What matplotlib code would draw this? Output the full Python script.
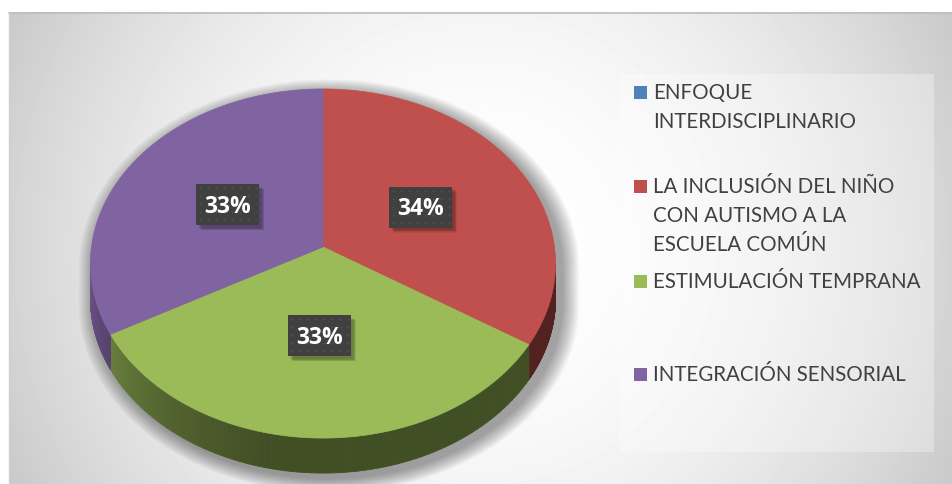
import numpy as np
import matplotlib.pyplot as plt
from matplotlib.patches import Polygon, Rectangle
from matplotlib.collections import PolyCollection
from matplotlib.colors import to_rgb

categories = ['ENFOQUE INTERDISCIPLINARIO',
              'LA INCLUSIÓN DEL NIÑO CON AUTISMO A LA ESCUELA COMÚN',
              'ESTIMULACIÓN TEMPRANA',
              'INTEGRACIÓN SENSORIAL']
legend_lines = [['ENFOQUE', 'INTERDISCIPLINARIO'],
                ['LA INCLUSIÓN DEL NIÑO', 'CON AUTISMO A LA', 'ESCUELA COMÚN'],
                ['ESTIMULACIÓN TEMPRANA'],
                ['INTEGRACIÓN SENSORIAL']]
values = [0, 34, 33, 33]
colors = ['#4F81BD', '#C0504D', '#9BBB59', '#8064A2']

W, H = 953, 485
fig = plt.figure(figsize=(W / 100, H / 100), dpi=100)
ax = fig.add_axes([0, 0, 1, 1])
ax.set_xlim(0, W)
ax.set_ylim(H, 0)
ax.axis('off')

# chart area: radial grey gradient
yy, xx = np.mgrid[13:H, 9:W] + 0.5
d = np.hypot(xx - 481, yy - 249)
g = (255 - 55 * (d / 530) ** 2) / 255
ax.imshow(g, cmap='gray', vmin=0, vmax=1, extent=[9, W, H, 13],
          interpolation='bilinear', zorder=0)
ax.plot([9, W], [13.5, 13.5], color='#BDBDBD', lw=1.2, zorder=1)
ax.plot([9.5, 9.5], [13, H], color='#D0D0D0', lw=1, zorder=1)

# perspective pie geometry
cx, cy0, s, t, k, depth = 323, 248, 231.5, 173, 0.0946, 35


def proj(theta_deg, r=1.0):
    th = np.radians(theta_deg)
    u, v = r * np.cos(th), r * np.sin(th)
    w = 1 + k * v
    return cx + s * u / w, cy0 - t * v / w


front_lo = -180 + np.degrees(np.arcsin(k))
front_hi = -np.degrees(np.arcsin(k))

# soft shadow behind the pie
th_back = np.linspace(front_hi, 360 + front_lo, 200)
th_front = np.linspace(front_lo, front_hi, 200)
bx, by = proj(th_back)
fx, fy = proj(th_front)
sil_x = np.concatenate([bx, fx])
sil_y = np.concatenate([by, fy + depth])
mcx, mcy = 323, 282
for i in range(1, 18):
    sc = 1 + i * 0.0045
    px = mcx + (sil_x - mcx) * sc + 6
    py = mcy + (sil_y - mcy) * sc + 5
    ax.add_patch(Polygon(np.column_stack([px, py]), closed=True,
                         facecolor='black', edgecolor='none', alpha=0.025, zorder=2))

# slice angles (clockwise from top)
total = sum(values)
angles = []
a = 90.0
for v in values:
    span = 360.0 * v / total
    angles.append((a, a - span))
    a -= span

# sides
for (a1, a2), col, v in zip(angles, colors, values):
    if v == 0:
        continue
    lo, hi = max(a2, front_lo), min(a1, front_hi)
    if lo >= hi:
        continue
    ths = np.linspace(hi, lo, 80)
    base = np.array(to_rgb(col))
    polys, fcs = [], []
    for j in range(len(ths) - 1):
        x1, y1 = proj(ths[j])
        x2, y2 = proj(ths[j + 1])
        polys.append([(x1, y1), (x2, y2), (x2, y2 + depth), (x1, y1 + depth)])
        mid = 0.5 * (ths[j] + ths[j + 1])
        f = 0.42 + 0.45 * np.clip((-100 - mid) / 80, 0, 1) ** 1.3
        fcs.append(np.clip(base * f, 0, 1))
    ax.add_collection(PolyCollection(polys, facecolors=fcs, edgecolors=fcs,
                                     linewidths=0.6, zorder=3))

# top faces
for (a1, a2), col, v in zip(angles, colors, values):
    if v == 0:
        continue
    ths = np.linspace(a1, a2, 200)
    ex, ey = proj(ths)
    pts = np.column_stack([np.concatenate([[cx], ex]), np.concatenate([[cy0], ey])])
    ax.add_patch(Polygon(pts, closed=True, facecolor=col, edgecolor=col,
                         lw=0.5, zorder=4))

# data labels
bw, bh = 63, 41
for (a1, a2), v in zip(angles, values):
    if v == 0:
        continue
    lx, ly = proj(0.5 * (a1 + a2), 0.49)
    for i in range(1, 6):
        ax.add_patch(Rectangle((lx - bw / 2 + 2 + i * 0.6, ly - bh / 2 + 2 + i * 0.6), bw, bh,
                               facecolor='black', edgecolor='none', alpha=0.07, zorder=5))
    ax.add_patch(Rectangle((lx - bw / 2, ly - bh / 2), bw, bh, facecolor='#404040',
                           edgecolor='none', zorder=6))
    gx, gy = np.meshgrid(np.arange(lx - bw / 2 + 4, lx + bw / 2, 8),
                         np.arange(ly - bh / 2 + 4, ly + bh / 2, 8))
    ax.scatter(gx.ravel(), gy.ravel(), s=1.2, color='#555555', linewidths=0, zorder=6.5)
    ax.text(lx, ly + 1, f'{v:.0f}%', ha='center', va='center', color='white',
            fontsize=16.5, fontweight='bold', family=['Open Sans', 'DejaVu Sans'], zorder=7)

# legend
ax.add_patch(Rectangle((619, 75), 315, 378, facecolor='white', edgecolor='none',
                       alpha=0.3, zorder=2))
first_y = [93, 187, 282, 375]
pitch = 29
for lines, col, y0 in zip(legend_lines, colors, first_y):
    ax.add_patch(Rectangle((634, y0 - 6.5), 13, 13, facecolor=col, edgecolor='none', zorder=6))
    for j, line in enumerate(lines):
        ax.text(653, y0 + j * pitch, line, ha='left', va='center', color='#404040',
                fontsize=14.8, family='Lato', zorder=6)

fig.savefig('out.png', dpi=100)
